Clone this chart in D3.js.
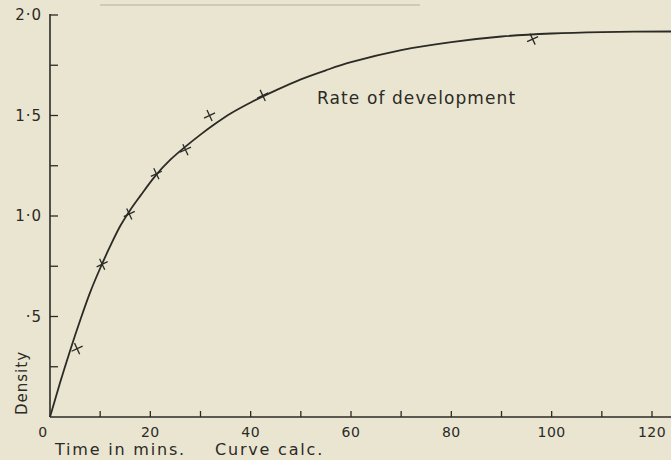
<!DOCTYPE html>
<html>
<head>
<meta charset="utf-8">
<script src="https://cdn.jsdelivr.net/npm/d3@7"></script>
<style>
  html, body { margin: 0; padding: 0; background: #e9e5d0; }
  svg { display: block; }
  text { font-family: 'DejaVu Sans', sans-serif; fill: #2b2a26; }
</style>
</head>
<body>
<svg id="chart"></svg>
<script>
// calculated curve
const curveTime = [0, 2, 4, 6, 8, 10, 12, 14, 16, 18, 21, 24, 27, 30, 33, 36, 40, 45, 50, 55, 60, 70, 80, 90, 100, 110, 125];
const curveDensity = [0, 0.17, 0.33, 0.48, 0.62, 0.74, 0.85, 0.95, 1.03, 1.1, 1.2, 1.28, 1.345, 1.405, 1.46, 1.51, 1.565, 1.625, 1.68, 1.725, 1.765, 1.825, 1.865, 1.893, 1.908, 1.915, 1.918];

// observed points
const obsTime = [5.4, 10.4, 15.8, 21.2, 27, 31.8, 42.4, 96.2];
const obsDensity = [0.34, 0.76, 1.01, 1.21, 1.33, 1.5, 1.6, 1.88];

const xTicks = [0, 20, 40, 60, 80, 100, 120];
const yTicks = [0.5, 1.0, 1.5, 2.0];
const yTickLabels = ['·5', '1·0', '1·5', '2·0'];

const w = 671, h = 460;
const ink = '#2b2a26';

const svg = d3.select('#chart').attr('width', w).attr('height', h);

const x = d3.scaleLinear().domain([0, 120]).range([50, 652]);
const y = d3.scaleLinear().domain([0, 2]).range([417, 15]);

// faint scan line at the top
svg.append('line')
  .attr('x1', 100).attr('x2', 420).attr('y1', 5).attr('y2', 5)
  .attr('stroke', '#bdb9a8').attr('stroke-width', 2).attr('opacity', 0.6);

// x axis
svg.append('line')
  .attr('x1', x(0)).attr('x2', w).attr('y1', y(0)).attr('y2', y(0))
  .attr('stroke', ink).attr('stroke-width', 1.6);

svg.append('g').selectAll('line')
  .data(d3.range(10, 125, 10))
  .join('line')
  .attr('x1', d => x(d)).attr('x2', d => x(d))
  .attr('y1', y(0)).attr('y2', y(0) - 6)
  .attr('stroke', ink).attr('stroke-width', 1.3);

svg.append('g').selectAll('text')
  .data(xTicks)
  .join('text')
  .attr('x', d => d === 0 ? x(d) - 7 : x(d))
  .attr('y', 437)
  .attr('text-anchor', 'middle')
  .attr('font-size', 14)
  .attr('letter-spacing', 0.5)
  .text(d => d);

// y axis
svg.append('line')
  .attr('x1', x(0)).attr('x2', x(0)).attr('y1', y(2) - 1).attr('y2', y(0))
  .attr('stroke', ink).attr('stroke-width', 1.6);

svg.append('g').selectAll('line')
  .data(d3.range(0.25, 2.01, 0.25))
  .join('line')
  .attr('x1', x(0)).attr('x2', x(0) + 8)
  .attr('y1', d => y(d)).attr('y2', d => y(d))
  .attr('stroke', ink).attr('stroke-width', 1.3);

svg.append('g').selectAll('text')
  .data(yTicks)
  .join('text')
  .attr('x', 42)
  .attr('y', d => y(d) + 5)
  .attr('text-anchor', 'end')
  .attr('font-size', 15)
  .attr('letter-spacing', 1)
  .text((d, i) => yTickLabels[i]);

// axis titles
svg.append('text')
  .attr('transform', `translate(27, 383) rotate(-90)`)
  .attr('text-anchor', 'middle')
  .attr('font-size', 15)
  .attr('letter-spacing', 1)
  .text('Density');

svg.append('text')
  .attr('x', 55).attr('y', 455)
  .attr('font-size', 16)
  .attr('letter-spacing', 1.8)
  .text('Time in mins.');

svg.append('text')
  .attr('x', 215).attr('y', 455)
  .attr('font-size', 16)
  .attr('letter-spacing', 1.8)
  .text('Curve calc.');

svg.append('text')
  .attr('x', 317).attr('y', 104)
  .attr('font-size', 17)
  .attr('letter-spacing', 1.1)
  .text('Rate of development');

// curve
const line = d3.line()
  .x(d => x(d[0]))
  .y(d => y(d[1]))
  .curve(d3.curveCatmullRom);

svg.append('path')
  .datum(curveTime.map((t, i) => [t, curveDensity[i]]))
  .attr('d', line)
  .attr('fill', 'none')
  .attr('stroke', ink)
  .attr('stroke-width', 1.8);

// markers: tilted crosses
const cross = d3.symbol().type(d3.symbolX).size(50);
svg.append('g').selectAll('path')
  .data(obsTime.map((t, i) => [t, obsDensity[i]]))
  .join('path')
  .attr('d', cross)
  .attr('transform', d => `translate(${x(d[0])},${y(d[1])}) rotate(20)`)
  .attr('fill', 'none')
  .attr('stroke', ink)
  .attr('stroke-width', 1.3);
</script>
</body>
</html>
